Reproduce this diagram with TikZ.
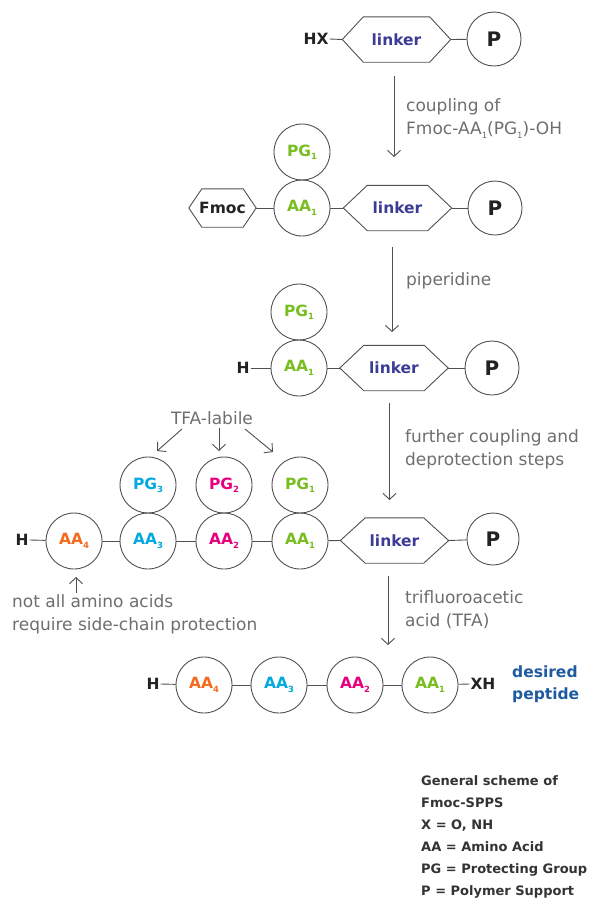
\documentclass[tikz,border=0pt]{standalone}
\usepackage{fontspec}
\setmainfont{DejaVu Sans}
\usetikzlibrary{arrows.meta}
\definecolor{cgreen}{HTML}{78BE20}
\definecolor{cmag}{HTML}{E6007E}
\definecolor{ccyan}{HTML}{00A9E0}
\definecolor{corange}{HTML}{F26B1D}
\definecolor{clink}{HTML}{3C3C96}
\definecolor{cline}{HTML}{505050}
\definecolor{ctext}{HTML}{6E6E6E}
\definecolor{cblue}{HTML}{1F5AA0}
\definecolor{cdark}{HTML}{222222}
\definecolor{clegend}{HTML}{333333}
\newcommand\sbs[1]{\raisebox{-0.4ex}{\fontsize{8.5}{8.5}\selectfont #1}}
\newcommand\hexpath[2]{\draw[hexline] (#1.west) -- ([xshift=#2]#1.north west) -- ([xshift=-#2]#1.north east) -- (#1.east) -- ([xshift=-#2]#1.south east) -- ([xshift=#2]#1.south west) -- cycle;}
\begin{document}
\begin{tikzpicture}[x=1pt,y=-1pt,
  ring/.style={circle, draw=cline, line width=0.9pt, minimum size=56pt, inner sep=0pt, font=\fontsize{15.5}{15.5}\bfseries\selectfont},
  pring/.style={circle, draw=cline, line width=0.9pt, minimum size=54pt, inner sep=0pt, font=\fontsize{20}{20}\bfseries\selectfont, text=cdark},
  hexbox/.style={minimum width=108pt, minimum height=45pt, inner sep=0pt, font=\fontsize{15.5}{15.5}\bfseries\selectfont, text=clink},
  hexline/.style={draw=cline, line width=0.9pt},
  endtxt/.style={font=\fontsize{15.5}{15.5}\bfseries\selectfont, text=cdark, inner sep=1pt},
  bond/.style={draw=cline, line width=0.9pt},
  rarrow/.style={draw=cline, line width=0.9pt, -{Straight Barb[length=6pt,width=13pt]}},
  lbl/.style={font=\fontsize{17}{23}\selectfont, text=ctext, align=left, anchor=west, inner sep=0pt}
]
\useasboundingbox (0,0) rectangle (594,903);

% Row 1
\node[hexbox] (L0) at (396.5,39.5) {linker};
\hexpath{L0}{21pt}
\node[pring] (P0) at (494,39) {P};
\node[endtxt] (HX0) at (316,39) {HX};
\draw[bond] (HX0.east) -- (L0.west);
\draw[bond] (L0.east) -- (P0);

\coordinate (a1s) at (394,76);
\coordinate (a1e) at (394,157);
\draw[rarrow] (a1s) -- (a1e);
\node[lbl] (t1) at (406,118.5) {coupling of\\Fmoc-AA\sbs{1}(PG\sbs{1})-OH};

% Row 2
\node[minimum width=67pt, minimum height=38pt, inner sep=0pt, font=\fontsize{15.5}{15.5}\bfseries\selectfont, text=cdark] (F1) at (222.5,208) {Fmoc};
\hexpath{F1}{13pt}
\node[ring, text=cgreen] (AA11) at (302,208) {AA\sbs{1}};
\node[ring, text=cgreen] (PG11) at (302,152) {PG\sbs{1}};
\node[hexbox] (L1) at (397.5,208) {linker};
\hexpath{L1}{24pt}
\node[pring] (P1) at (495,208) {P};
\draw[bond] (F1.east) -- (AA11);
\draw[bond] (AA11) -- (L1.west);
\draw[bond] (L1.east) -- (P1);

\coordinate (a2s) at (392,247);
\coordinate (a2e) at (392,332);
\draw[rarrow] (a2s) -- (a2e);
\node[lbl] (t2) at (406,281) {piperidine};

% Row 3
\node[endtxt] (H2) at (243,368) {H};
\node[ring, text=cgreen] (AA12) at (299,368) {AA\sbs{1}};
\node[ring, text=cgreen] (PG12) at (299,312) {PG\sbs{1}};
\node[hexbox] (L2) at (394,368) {linker};
\hexpath{L2}{24pt}
\node[pring] (P2) at (492,368) {P};
\draw[bond] (H2.east) -- (AA12);
\draw[bond] (AA12) -- (L2.west);
\draw[bond] (L2.east) -- (P2);

\coordinate (a3s) at (389.5,403);
\coordinate (a3e) at (389.5,500);
\draw[rarrow] (a3s) -- (a3e);
\node[lbl] (t3) at (405,449) {further coupling and\\deprotection steps};

% Row 4
\node[endtxt] (H3) at (22,540) {H};
\node[ring, text=corange] (AA43) at (74,541) {AA\sbs{4}};
\node[ring, text=ccyan] (AA33) at (148,541) {AA\sbs{3}};
\node[ring, text=cmag] (AA23) at (224,541) {AA\sbs{2}};
\node[ring, text=cgreen] (AA13) at (300,541) {AA\sbs{1}};
\node[ring, text=ccyan] (PG33) at (148,485) {PG\sbs{3}};
\node[ring, text=cmag] (PG23) at (224,485) {PG\sbs{2}};
\node[ring, text=cgreen] (PG13) at (300,485) {PG\sbs{1}};
\node[hexbox] (L3) at (394.5,540.5) {linker};
\hexpath{L3}{25pt}
\node[pring, minimum size=52pt] (P3) at (493,539) {P};
\draw[bond] (H3.east) -- (AA43);
\draw[bond] (AA43) -- (AA33);
\draw[bond] (AA33) -- (AA23);
\draw[bond] (AA23) -- (AA13);
\draw[bond] (AA13) -- (L3.west);
\draw[bond] (L3.east) -- (P3);

\node[lbl, anchor=center] (tfa) at (212,418) {TFA-labile};
\coordinate (b1s) at (182,429); \coordinate (b1e) at (157,451);
\coordinate (b2s) at (219,428); \coordinate (b2e) at (219,451);
\coordinate (b3s) at (245,429); \coordinate (b3e) at (273,452);
\draw[rarrow] (b1s) -- (b1e);
\draw[rarrow] (b2s) -- (b2e);
\draw[rarrow] (b3s) -- (b3e);

\coordinate (us) at (76,593); \coordinate (ue) at (76,577);
\draw[rarrow] (us) -- (ue);
\node[lbl] (t5) at (12,614) {not all amino acids\\require side-chain protection};

\coordinate (a4s) at (388,576);
\coordinate (a4e) at (388,645);
\draw[rarrow] (a4s) -- (a4e);
\node[lbl] (t4) at (405,610) {trifluoroacetic\\acid (TFA)};

% Row 5
\node[endtxt] (H4) at (153,684) {H};
\node[ring, text=corange] (AA44) at (204,685) {AA\sbs{4}};
\node[ring, text=ccyan] (AA34) at (279,685) {AA\sbs{3}};
\node[ring, text=cmag] (AA24) at (355,685) {AA\sbs{2}};
\node[ring, text=cgreen] (AA14) at (430,685) {AA\sbs{1}};
\node[endtxt] (XH4) at (483,684) {XH};
\draw[bond] (H4.east) -- (AA44);
\draw[bond] (AA44) -- (AA34);
\draw[bond] (AA34) -- (AA24);
\draw[bond] (AA24) -- (AA14);
\draw[bond] (AA14) -- (XH4.west);
\node[anchor=west, align=left, inner sep=0pt, text=cblue, font=\fontsize{15.5}{22}\bfseries\selectfont] (dp) at (512,684) {desired\\peptide};

% Legend
\node[anchor=north west, align=left, inner sep=0pt, text=clegend, font=\fontsize{13}{22}\bfseries\selectfont] (leg) at (421,775) {General scheme of\\Fmoc-SPPS\\X = O, NH\\AA = Amino Acid\\PG = Protecting Group\\P = Polymer Support};
\end{tikzpicture}
\end{document}
